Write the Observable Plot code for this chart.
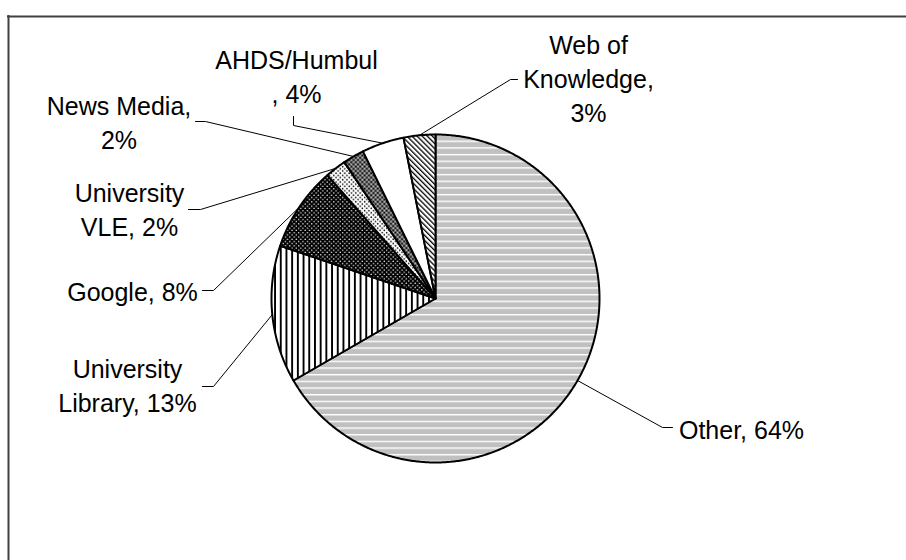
<!DOCTYPE html>
<html>
<head>
<meta charset="utf-8">
<script src="https://cdn.jsdelivr.net/npm/d3@7"></script>
<script src="https://cdn.jsdelivr.net/npm/@observablehq/plot@0.6"></script>
<style>
  html, body { margin: 0; padding: 0; background: #fff; overflow: hidden; }
  #chart { width: 906px; height: 560px; }
</style>
</head>
<body>
<div id="chart"></div>
<script>
// ---- data ----
const categories = ["Other", "University Library", "Google", "University VLE", "News Media", "AHDS/Humbul", "Web of Knowledge"];
const values = [64, 13, 8, 2, 2, 4, 3];
const labelTexts = ["Other, 64%", "University\nLibrary, 13%", "Google, 8%", "University\nVLE, 2%", "News Media,\n2%", "AHDS/Humbul\n, 4%", "Web of\nKnowledge,\n3%"];

// ---- layout ----
const W = 906, H = 560;
const CX = 435, CY = 298, R = 164;
const labelPos = [[741, 428], [127, 384], [132, 290], [129, 207.5], [118.5, 120.5], [296, 75], [588, 77]];
const leaderStart = [[672, 427, 662, 427], [202, 386, 213, 386], [202, 290, 213, 290], [188, 209, 200, 209], [195, 121, 205, 121], [293, 116, 293, 125], [517, 79, 510, 79]];
const fills = ["url(#pOther)", "url(#pLib)", "url(#pGoogle)", "url(#pVLE)", "url(#pNews)", "#ffffff", "url(#pWok)"];
const FRAME_X = 8, FRAME_Y = 16;

// ---- geometry from data ----
const arcs = d3.pie().sort(null).value(d => d)(values);
const pt = (a, r) => ({x: CX + r * Math.sin(a), y: CY - r * Math.cos(a)});
const slices = arcs.map((a, i) => {
  const pts = [{x: CX, y: CY}];
  const n = Math.max(2, Math.ceil((a.endAngle - a.startAngle) / (Math.PI / 360)));
  for (let k = 0; k <= n; k++) pts.push(pt(a.startAngle + (a.endAngle - a.startAngle) * k / n, R));
  return pts;
});
const leaders = arcs.map((a, i) => {
  const mid = (a.startAngle + a.endAngle) / 2;
  const e = pt(mid, R);
  const s = leaderStart[i];
  return [{x: s[0], y: s[1], k: i}, {x: s[2], y: s[3], k: i}, {x: e.x, y: e.y, k: i}];
}).flat();
const labels = categories.map((c, i) => ({name: c, text: labelTexts[i], x: labelPos[i][0], y: labelPos[i][1]}));

const svg = Plot.plot({
  width: W, height: H,
  margin: 0,
  x: {domain: [0, W], range: [0, W], axis: null},
  y: {domain: [0, H], range: [0, H], axis: null},
  style: {fontFamily: "'Liberation Sans', Arial, sans-serif", background: "#fff", overflow: "visible"},
  marks: [
    Plot.ruleX([FRAME_X], {y1: FRAME_Y - 1, y2: H + 10, stroke: "#404040", strokeWidth: 2}),
    Plot.ruleY([FRAME_Y], {x1: FRAME_X - 1, x2: W + 10, stroke: "#404040", strokeWidth: 2}),
    ...slices.map((pts, i) => Plot.line(pts, {x: "x", y: "y", curve: "linear-closed", fill: fills[i], stroke: "#000", strokeWidth: 2, strokeLinejoin: "round"})),
    Plot.line(leaders, {x: "x", y: "y", z: "k", stroke: "#000", strokeWidth: 1}),
    Plot.text(labels, {x: "x", y: "y", text: "text", fontSize: 25, lineHeight: 1.36, fill: "#000", textAnchor: "middle"})
  ]
});

d3.select(svg).insert("defs", ":first-child").html(`
  <pattern id="pOther" patternUnits="userSpaceOnUse" width="8" height="6.67">
    <rect width="8" height="6.67" fill="#c0c0c0"/>
    <rect y="0" width="8" height="1.4" fill="#ffffff"/>
  </pattern>
  <pattern id="pLib" patternUnits="userSpaceOnUse" width="5.7" height="8">
    <rect width="5.7" height="8" fill="#ffffff"/>
    <rect x="0" width="1.9" height="8" fill="#000"/>
  </pattern>
  <pattern id="pGoogle" patternUnits="userSpaceOnUse" width="4.4" height="4.4">
    <rect width="4.4" height="4.4" fill="#000"/>
    <circle cx="1.1" cy="1.1" r="0.75" fill="#fff"/>
    <circle cx="3.3" cy="3.3" r="0.75" fill="#fff"/>
  </pattern>
  <pattern id="pVLE" patternUnits="userSpaceOnUse" width="4.4" height="4.4">
    <rect width="4.4" height="4.4" fill="#fff"/>
    <circle cx="1.1" cy="1.1" r="0.8" fill="#000"/>
    <circle cx="3.3" cy="3.3" r="0.8" fill="#000"/>
  </pattern>
  <pattern id="pNews" patternUnits="userSpaceOnUse" width="4.4" height="4.4">
    <rect width="4.4" height="4.4" fill="#707070"/>
    <circle cx="1.1" cy="1.1" r="0.9" fill="#000"/>
    <circle cx="3.3" cy="3.3" r="0.9" fill="#000"/>
    <circle cx="3.3" cy="1.1" r="0.6" fill="#e8e8e8"/>
    <circle cx="1.1" cy="3.3" r="0.6" fill="#e8e8e8"/>
  </pattern>
  <pattern id="pWok" patternUnits="userSpaceOnUse" width="3.6" height="8" patternTransform="rotate(-45)">
    <rect width="3.6" height="8" fill="#fff"/>
    <rect x="0" width="1.3" height="8" fill="#000"/>
  </pattern>
`);

document.getElementById("chart").appendChild(svg);
</script>
</body>
</html>
